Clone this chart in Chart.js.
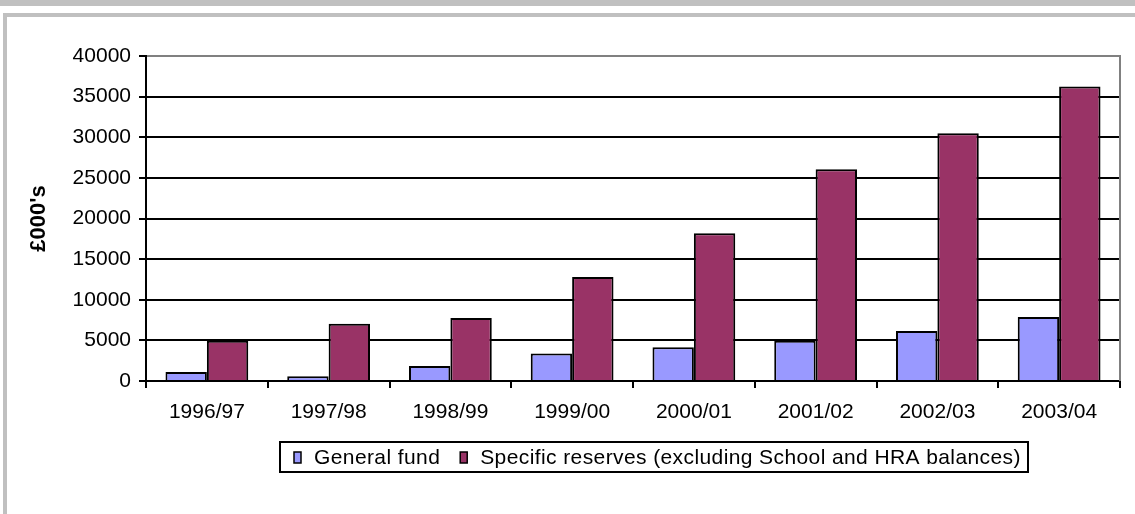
<!DOCTYPE html>
<html>
<head>
<meta charset="utf-8">
<script src="https://cdn.jsdelivr.net/npm/chart.js@4.4.1/dist/chart.umd.min.js"></script>
<style>
  html, body { margin: 0; padding: 0; background: #fff; }
  #wrap { width: 1135px; height: 514px; position: relative; }
  canvas { display: block; }
</style>
</head>
<body>
<div id="wrap"><canvas id="reserves" width="1135" height="514"></canvas></div>
<script>
// Financial years on the category axis
const categories = ['1996/97', '1997/98', '1998/99', '1999/00', '2000/01', '2001/02', '2002/03', '2003/04'];

// Balances at year end, £000's
const generalFund = [1100, 580, 1850, 3400, 4140, 4960, 6150, 7870];
const specificReserves = [4950, 7050, 7740, 12790, 18200, 26070, 30490, 36250];

// Value axis ticks
const yTicks = [0, 5000, 10000, 15000, 20000, 25000, 30000, 35000, 40000];

const seriesNames = ['General fund', 'Specific reserves (excluding School and HRA balances)'];
const seriesColors = ['#9999FF', '#993366'];
const axisTitle = "£000's";

const FONT = '"Liberation Sans", Arial, Helvetica, sans-serif';

// Page frame: grey band along the top and a grey border round the panel
const framePlugin = {
  id: 'frame',
  beforeDraw(chart) {
    const ctx = chart.ctx;
    ctx.save();
    ctx.fillStyle = '#ffffff';
    ctx.fillRect(0, 0, chart.width, chart.height);
    ctx.fillStyle = '#c0c0c0';
    ctx.fillRect(0, 0, chart.width, 6);
    ctx.fillRect(3, 13, chart.width - 3, 4);
    ctx.fillRect(3, 13, 4, chart.height - 13);
    ctx.restore();
  }
};

// Grey right-hand edge of the plot area
const plotEdgePlugin = {
  id: 'plotEdge',
  beforeDatasetsDraw(chart) {
    const { ctx, chartArea } = chart;
    ctx.save();
    ctx.strokeStyle = '#808080';
    ctx.lineWidth = 2;
    ctx.beginPath();
    ctx.moveTo(chartArea.right, chartArea.top - 1);
    ctx.lineTo(chartArea.right, chartArea.bottom);
    ctx.stroke();
    ctx.restore();
  }
};

// Boxed legend below the category labels
const boxedLegendPlugin = {
  id: 'boxedLegend',
  afterDraw(chart) {
    const ctx = chart.ctx;
    const box = { left: 280, top: 442, right: 1028, bottom: 472 };
    const midY = (box.top + box.bottom) / 2;
    ctx.save();
    ctx.strokeStyle = '#000';
    ctx.lineWidth = 2;
    ctx.strokeRect(box.left, box.top, box.right - box.left, box.bottom - box.top);
    ctx.font = '21px ' + FONT;
    ctx.letterSpacing = '0.4px';
    ctx.textBaseline = 'middle';
    ctx.fillStyle = '#000';
    let x = 294;
    chart.data.datasets.forEach((ds) => {
      ctx.fillStyle = ds.backgroundColor;
      ctx.fillRect(x, midY - 5, 7, 11);
      ctx.lineWidth = 1.5;
      ctx.strokeStyle = '#000';
      ctx.strokeRect(x, midY - 5, 7, 11);
      x += 20;
      ctx.fillStyle = '#000';
      ctx.fillText(ds.label, x, midY + 1);
      x += ctx.measureText(ds.label).width + 20;
    });
    ctx.restore();
  }
};

new Chart(document.getElementById('reserves'), {
  type: 'bar',
  data: {
    labels: categories,
    datasets: [
      {
        label: seriesNames[0],
        data: generalFund,
        backgroundColor: seriesColors[0],
        borderColor: '#000',
        borderWidth: 2,
        barPercentage: 1,
        categoryPercentage: 0.68
      },
      {
        label: seriesNames[1],
        data: specificReserves,
        backgroundColor: seriesColors[1],
        borderColor: '#000',
        borderWidth: 2,
        barPercentage: 1,
        categoryPercentage: 0.68
      }
    ]
  },
  options: {
    responsive: false,
    animation: false,
    devicePixelRatio: 1,
    layout: { padding: { top: 56, right: 15, bottom: 0, left: 0 } },
    plugins: {
      legend: { display: false },
      tooltip: { enabled: false }
    },
    scales: {
      x: {
        grid: {
          offset: true,
          drawOnChartArea: false,
          drawTicks: true,
          tickLength: 7,
          color: '#000',
          lineWidth: 2
        },
        border: { color: '#000', width: 2 },
        ticks: {
          color: '#000',
          font: { family: FONT, size: 21 },
          padding: 12,
          maxRotation: 0,
          autoSkip: false
        },
        afterFit(scale) { scale.height = 133; }
      },
      y: {
        min: 0,
        max: 40000,
        afterBuildTicks(scale) { scale.ticks = yTicks.map(v => ({ value: v })); },
        grid: {
          color: c => (c.tick && c.tick.value === 40000 ? '#808080' : '#000'),
          tickColor: '#000',
          lineWidth: 2,
          tickLength: 7,
          drawTicks: true
        },
        border: { color: '#000', width: 2 },
        ticks: {
          color: '#000',
          font: { family: FONT, size: 21 },
          padding: 8,
          callback: v => String(v)
        },
        title: {
          display: true,
          text: axisTitle,
          color: '#000',
          font: { family: FONT, size: 22, weight: 'bold' },
          padding: { top: 26, bottom: 0 }
        },
        afterFit(scale) { scale.width = 146; }
      }
    }
  },
  plugins: [framePlugin, plotEdgePlugin, boxedLegendPlugin]
});
</script>
</body>
</html>
